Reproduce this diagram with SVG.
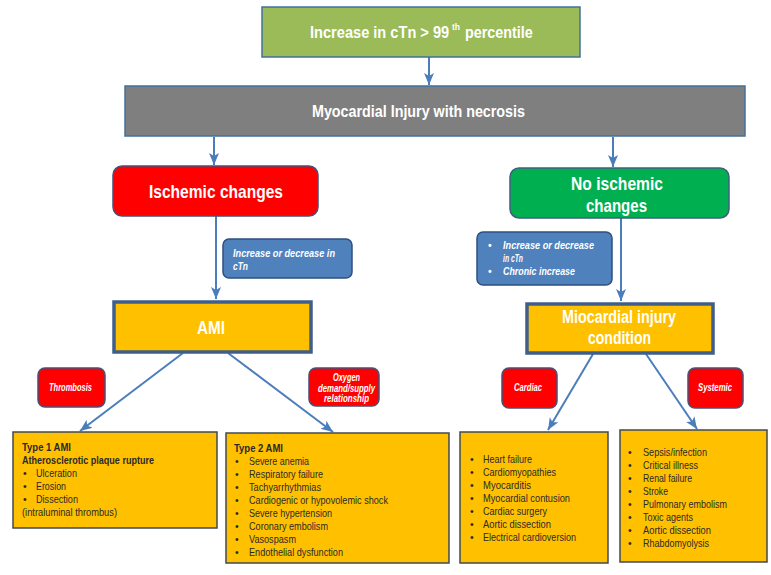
<svg xmlns="http://www.w3.org/2000/svg" width="771" height="575" viewBox="0 0 771 575">
<style>
.t{font-family:"Liberation Sans",Arial,sans-serif;font-weight:bold;fill:#fff}
.s{font-family:"Liberation Sans",Arial,sans-serif;font-weight:bold;font-style:italic;fill:#fff;font-size:10px}
.l{font-family:"Liberation Sans",Arial,sans-serif;fill:#2a2a2a;font-size:10.5px}
.lb{font-weight:bold}
.yb{fill:#FFC000;stroke:#404A55;stroke-width:1.5}
.rb{fill:#FF0000;stroke:#4A4F7A;stroke-width:1.5}
.bb{fill:#4F81BD;stroke:#2F4F7F;stroke-width:1.5}
.c{stroke:#4A7EBB;stroke-width:2;fill:none;marker-end:url(#ah)}
</style>
<defs>
<marker id="ah" markerUnits="userSpaceOnUse" markerWidth="14" markerHeight="12" refX="12" refY="5" orient="auto">
<path d="M0,0 L12,5 L0,10 L3,5 z" fill="#4A7EBB"/>
</marker>
</defs>
<rect width="771" height="575" fill="#fff"/>
<g id="connectors">
<line class="c" x1="429" y1="57" x2="429" y2="85"/>
<line class="c" x1="214" y1="137" x2="214" y2="165"/>
<line class="c" x1="613" y1="137" x2="613" y2="167"/>
<line class="c" x1="216" y1="216" x2="216" y2="299"/>
<line class="c" x1="621" y1="218" x2="621" y2="301"/>
<line class="c" x1="183" y1="353" x2="80" y2="431"/>
<line class="c" x1="228" y1="353" x2="333" y2="432"/>
<line class="c" x1="593" y1="354" x2="548" y2="430"/>
<line class="c" x1="646" y1="354" x2="697" y2="429"/>
</g>
<g id="top">
<rect x="262" y="7" width="318" height="50" fill="#9BBB59" stroke="#41719C" stroke-width="1.5"/>
<text class="t" transform="translate(310,38) scale(0.885,1)" x="0" y="0" font-size="16.5">Increase in cTn &gt; 99</text>
<text class="t" x="452" y="30" font-size="8.5">th</text>
<text class="t" transform="translate(465,38) scale(0.87,1)" x="0" y="0" font-size="16.5">percentile</text>
</g>
<g id="injury">
<rect x="125" y="86" width="620" height="50" fill="#7F7F7F" stroke="#41719C" stroke-width="1.5"/>
<text class="t" x="312" y="117" font-size="16.5" textLength="213" lengthAdjust="spacingAndGlyphs">Myocardial Injury with necrosis</text>
</g>
<g id="ischemic">
<rect x="113" y="166" width="205" height="50" rx="9" fill="#FF0000" stroke="#4A4F7A" stroke-width="1.5"/>
<text class="t" x="149" y="198" font-size="18.5" textLength="134" lengthAdjust="spacingAndGlyphs">Ischemic changes</text>
</g>
<g id="noischemic">
<rect x="510" y="168" width="219" height="50" rx="9" fill="#00B050" stroke="#3F5F7F" stroke-width="1.5"/>
<text class="t" x="571" y="190" font-size="18.5" textLength="92" lengthAdjust="spacingAndGlyphs">No ischemic</text>
<text class="t" x="586" y="212" font-size="18.5" textLength="61" lengthAdjust="spacingAndGlyphs">changes</text>
</g>
<g id="label-left">
<rect class="bb" x="223" y="239" width="129" height="39" rx="6"/>
<text class="s" x="233" y="257" textLength="102" lengthAdjust="spacingAndGlyphs">Increase or decrease in</text>
<text class="s" x="233" y="270" textLength="15" lengthAdjust="spacingAndGlyphs">cTn</text>
</g>
<g id="label-right">
<rect class="bb" x="477" y="232" width="135" height="53" rx="6"/>
<text class="s" x="488" y="249">•</text>
<text class="s" x="503" y="249" textLength="91" lengthAdjust="spacingAndGlyphs">Increase or decrease</text>
<text class="s" x="503" y="262" textLength="20" lengthAdjust="spacingAndGlyphs">in cTn</text>
<text class="s" x="488" y="275">•</text>
<text class="s" x="503" y="275" textLength="72" lengthAdjust="spacingAndGlyphs">Chronic increase</text>
</g>
<g id="ami">
<rect x="114" y="302" width="197" height="50" fill="#FFC000" stroke="#3F5F8A" stroke-width="3.5"/>
<text class="t" x="197" y="334" font-size="18.5" textLength="28" lengthAdjust="spacingAndGlyphs">AMI</text>
</g>
<g id="condition">
<rect x="527" y="304" width="186" height="49" fill="#FFC000" stroke="#3F5F8A" stroke-width="3.5"/>
<text class="t" x="562" y="323" font-size="17.5" textLength="114" lengthAdjust="spacingAndGlyphs">Miocardial injury</text>
<text class="t" x="588" y="344" font-size="17.5" textLength="63" lengthAdjust="spacingAndGlyphs">condition</text>
</g>
<g id="thrombosis">
<rect class="rb" x="38" y="368" width="67" height="39" rx="7"/>
<text class="s" x="49" y="391" textLength="43" lengthAdjust="spacingAndGlyphs">Thrombosis</text>
</g>
<g id="oxygen">
<rect class="rb" x="309" y="368" width="70" height="38" rx="7"/>
<text class="s" x="333" y="381" textLength="27" lengthAdjust="spacingAndGlyphs">Oxygen</text>
<text class="s" x="318" y="392" textLength="57" lengthAdjust="spacingAndGlyphs">demand/supply</text>
<text class="s" x="324" y="402" textLength="45" lengthAdjust="spacingAndGlyphs">relationship</text>
</g>
<g id="cardiac">
<rect class="rb" x="502" y="368" width="55" height="40" rx="7"/>
<text class="s" x="514" y="391" textLength="28" lengthAdjust="spacingAndGlyphs">Cardiac</text>
</g>
<g id="systemic">
<rect class="rb" x="688" y="368" width="55" height="40" rx="7"/>
<text class="s" x="698" y="391" textLength="34" lengthAdjust="spacingAndGlyphs">Systemic</text>
</g>
<g id="type1">
<rect class="yb" x="13" y="432" width="204" height="96"/>
<text class="l lb" x="22" y="451" textLength="49" lengthAdjust="spacingAndGlyphs">Type 1 AMI</text>
<text class="l lb" x="22" y="464" textLength="132" lengthAdjust="spacingAndGlyphs">Atherosclerotic plaque rupture</text>
<text class="l" x="23" y="477">•</text><text class="l" x="36" y="477" textLength="41" lengthAdjust="spacingAndGlyphs">Ulceration</text>
<text class="l" x="23" y="490">•</text><text class="l" x="36" y="490" textLength="30" lengthAdjust="spacingAndGlyphs">Erosion</text>
<text class="l" x="23" y="503">•</text><text class="l" x="36" y="503" textLength="42" lengthAdjust="spacingAndGlyphs">Dissection</text>
<text class="l" x="22" y="516" textLength="95" lengthAdjust="spacingAndGlyphs">(intraluminal thrombus)</text>
</g>
<g id="type2">
<rect class="yb" x="226" y="433" width="223" height="130"/>
<text class="l lb" x="234" y="452" textLength="49" lengthAdjust="spacingAndGlyphs">Type 2 AMI</text>
<text class="l" x="235" y="465">•</text><text class="l" x="249" y="465" textLength="60" lengthAdjust="spacingAndGlyphs">Severe anemia</text>
<text class="l" x="235" y="478">•</text><text class="l" x="249" y="478" textLength="74" lengthAdjust="spacingAndGlyphs">Respiratory failure</text>
<text class="l" x="235" y="491">•</text><text class="l" x="249" y="491" textLength="72" lengthAdjust="spacingAndGlyphs">Tachyarrhythmias</text>
<text class="l" x="235" y="504">•</text><text class="l" x="249" y="504" textLength="139" lengthAdjust="spacingAndGlyphs">Cardiogenic or hypovolemic shock</text>
<text class="l" x="235" y="517">•</text><text class="l" x="249" y="517" textLength="83" lengthAdjust="spacingAndGlyphs">Severe hypertension</text>
<text class="l" x="235" y="530">•</text><text class="l" x="249" y="530" textLength="79" lengthAdjust="spacingAndGlyphs">Coronary embolism</text>
<text class="l" x="235" y="543">•</text><text class="l" x="249" y="543" textLength="47" lengthAdjust="spacingAndGlyphs">Vasospasm</text>
<text class="l" x="235" y="556">•</text><text class="l" x="249" y="556" textLength="94" lengthAdjust="spacingAndGlyphs">Endothelial dysfunction</text>
</g>
<g id="cardiac-list">
<rect class="yb" x="460" y="432" width="148" height="131"/>
<text class="l" x="470" y="463">•</text><text class="l" x="483" y="463" textLength="49" lengthAdjust="spacingAndGlyphs">Heart failure</text>
<text class="l" x="470" y="476">•</text><text class="l" x="483" y="476" textLength="73" lengthAdjust="spacingAndGlyphs">Cardiomyopathies</text>
<text class="l" x="470" y="489">•</text><text class="l" x="483" y="489" textLength="48" lengthAdjust="spacingAndGlyphs">Myocarditis</text>
<text class="l" x="470" y="502">•</text><text class="l" x="483" y="502" textLength="87" lengthAdjust="spacingAndGlyphs">Myocardial contusion</text>
<text class="l" x="470" y="515">•</text><text class="l" x="483" y="515" textLength="64" lengthAdjust="spacingAndGlyphs">Cardiac surgery</text>
<text class="l" x="470" y="528">•</text><text class="l" x="483" y="528" textLength="68" lengthAdjust="spacingAndGlyphs">Aortic dissection</text>
<text class="l" x="470" y="541">•</text><text class="l" x="483" y="541" textLength="93" lengthAdjust="spacingAndGlyphs">Electrical cardioversion</text>
</g>
<g id="systemic-list">
<rect class="yb" x="620" y="430" width="147" height="132"/>
<text class="l" x="628" y="456">•</text><text class="l" x="643" y="456" textLength="64" lengthAdjust="spacingAndGlyphs">Sepsis/infection</text>
<text class="l" x="628" y="469">•</text><text class="l" x="643" y="469" textLength="55" lengthAdjust="spacingAndGlyphs">Critical illness</text>
<text class="l" x="628" y="482">•</text><text class="l" x="643" y="482" textLength="49" lengthAdjust="spacingAndGlyphs">Renal failure</text>
<text class="l" x="628" y="495">•</text><text class="l" x="643" y="495" textLength="25" lengthAdjust="spacingAndGlyphs">Stroke</text>
<text class="l" x="628" y="508">•</text><text class="l" x="643" y="508" textLength="84" lengthAdjust="spacingAndGlyphs">Pulmonary embolism</text>
<text class="l" x="628" y="521">•</text><text class="l" x="643" y="521" textLength="50" lengthAdjust="spacingAndGlyphs">Toxic agents</text>
<text class="l" x="628" y="534">•</text><text class="l" x="643" y="534" textLength="68" lengthAdjust="spacingAndGlyphs">Aortic dissection</text>
<text class="l" x="628" y="547">•</text><text class="l" x="643" y="547" textLength="66" lengthAdjust="spacingAndGlyphs">Rhabdomyolysis</text>
</g>
</svg>
